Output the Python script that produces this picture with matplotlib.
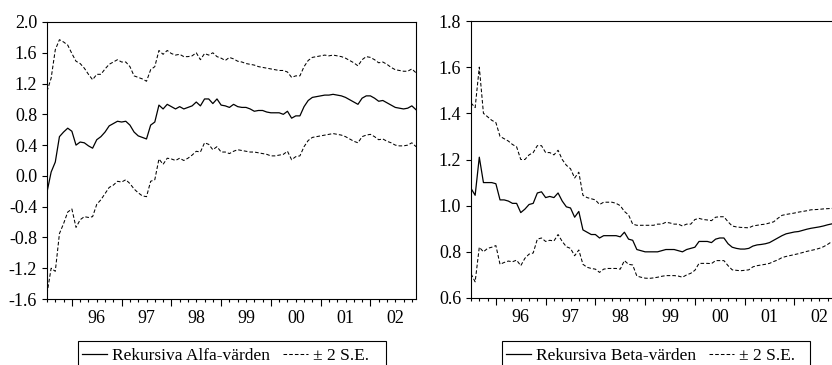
import numpy as np
import matplotlib.pyplot as plt
from matplotlib.patches import Rectangle

plt.rcParams['font.family'] = ['Liberation Serif', 'DejaVu Serif']
plt.rcParams['lines.scale_dashes'] = False

# --- Data: monthly recursive estimates, 1995M07 - 2002M12 ---
start_year = 1995.5
n_obs = 90

alfa = [-0.21, 0.05, 0.18, 0.51, 0.57, 0.62, 0.58, 0.40, 0.44, 0.43,
        0.39, 0.36, 0.47, 0.51, 0.57, 0.65, 0.68, 0.71, 0.70, 0.71,
        0.66, 0.57, 0.52, 0.50, 0.48, 0.66, 0.70, 0.92, 0.87, 0.93,
        0.90, 0.87, 0.90, 0.87, 0.89, 0.91, 0.96, 0.91, 1.00, 1.00,
        0.94, 1.00, 0.92, 0.91, 0.89, 0.93, 0.90, 0.89, 0.89, 0.87,
        0.84, 0.85, 0.85, 0.83, 0.82, 0.82, 0.82, 0.80, 0.84, 0.75,
        0.78, 0.78, 0.90, 0.98, 1.02, 1.03, 1.04, 1.05, 1.05, 1.06,
        1.05, 1.04, 1.02, 0.99, 0.96, 0.93, 1.01, 1.04, 1.04, 1.01,
        0.97, 0.98, 0.95, 0.92, 0.89, 0.88, 0.87, 0.88, 0.91, 0.86]
alfa_upper = [1.10, 1.27, 1.64, 1.77, 1.74, 1.70, 1.59, 1.49, 1.46, 1.40,
              1.32, 1.25, 1.32, 1.32, 1.39, 1.45, 1.48, 1.51, 1.48, 1.48,
              1.42, 1.30, 1.28, 1.26, 1.23, 1.38, 1.42, 1.63, 1.58, 1.63,
              1.59, 1.57, 1.58, 1.55, 1.55, 1.56, 1.60, 1.51, 1.59, 1.57,
              1.60, 1.55, 1.53, 1.50, 1.54, 1.52, 1.49, 1.48, 1.46, 1.45,
              1.44, 1.42, 1.41, 1.40, 1.39, 1.38, 1.37, 1.37, 1.35, 1.28,
              1.30, 1.30, 1.42, 1.50, 1.54, 1.55, 1.56, 1.57, 1.56, 1.57,
              1.56, 1.55, 1.53, 1.50, 1.47, 1.43, 1.51, 1.55, 1.54, 1.51,
              1.47, 1.48, 1.45, 1.41, 1.38, 1.37, 1.36, 1.36, 1.39, 1.34]
alfa_lower = [-1.53, -1.20, -1.24, -0.75, -0.62, -0.47, -0.43, -0.67, -0.57, -0.53,
              -0.54, -0.53, -0.37, -0.31, -0.23, -0.15, -0.12, -0.07, -0.08, -0.05,
              -0.10, -0.17, -0.22, -0.26, -0.27, -0.07, -0.05, 0.22, 0.15, 0.23,
              0.22, 0.20, 0.23, 0.20, 0.23, 0.27, 0.32, 0.31, 0.43, 0.41,
              0.34, 0.38, 0.31, 0.31, 0.29, 0.32, 0.34, 0.33, 0.32, 0.31,
              0.31, 0.30, 0.29, 0.28, 0.26, 0.26, 0.27, 0.28, 0.32, 0.21,
              0.25, 0.26, 0.38, 0.46, 0.50, 0.51, 0.52, 0.53, 0.54, 0.55,
              0.54, 0.53, 0.51, 0.48, 0.45, 0.43, 0.51, 0.53, 0.54, 0.51,
              0.47, 0.48, 0.45, 0.43, 0.40, 0.39, 0.39, 0.40, 0.43, 0.38]

beta = [1.075, 1.045, 1.21, 1.10, 1.10, 1.10, 1.095, 1.025, 1.025, 1.02,
        1.01, 1.01, 0.97, 0.985, 1.005, 1.01, 1.055, 1.06, 1.035, 1.04,
        1.035, 1.055, 1.02, 0.995, 0.99, 0.95, 0.975, 0.895, 0.885, 0.875,
        0.875, 0.86, 0.87, 0.87, 0.87, 0.87, 0.865, 0.885, 0.855, 0.85,
        0.81, 0.805, 0.80, 0.80, 0.80, 0.80, 0.805, 0.81, 0.81, 0.81,
        0.805, 0.80, 0.81, 0.815, 0.82, 0.845, 0.845, 0.845, 0.84, 0.855,
        0.86, 0.86, 0.835, 0.82, 0.815, 0.812, 0.812, 0.815, 0.825, 0.83,
        0.832, 0.835, 0.84, 0.85, 0.86, 0.87, 0.878, 0.882, 0.886, 0.888,
        0.893, 0.898, 0.902, 0.905, 0.908, 0.912, 0.917, 0.921, 0.925, 0.93]
beta_upper = [1.445, 1.425, 1.60, 1.40, 1.385, 1.37, 1.36, 1.30, 1.29, 1.28,
              1.265, 1.255, 1.20, 1.20, 1.22, 1.23, 1.26, 1.26, 1.23, 1.23,
              1.22, 1.24, 1.20, 1.175, 1.16, 1.12, 1.145, 1.045, 1.035, 1.03,
              1.025, 1.005, 1.015, 1.015, 1.015, 1.01, 1.0, 0.975, 0.96, 0.92,
              0.915, 0.915, 0.915, 0.915, 0.915, 0.92, 0.92, 0.928, 0.925, 0.92,
              0.92, 0.912, 0.92, 0.92, 0.94, 0.945, 0.94, 0.938, 0.935, 0.95,
              0.952, 0.952, 0.93, 0.912, 0.908, 0.906, 0.905, 0.904, 0.912, 0.915,
              0.918, 0.92, 0.925, 0.93, 0.945, 0.958, 0.962, 0.965, 0.968, 0.972,
              0.975, 0.978, 0.982, 0.983, 0.984, 0.986, 0.987, 0.988, 0.99, 0.992]
beta_lower = [0.705, 0.67, 0.82, 0.80, 0.815, 0.82, 0.827, 0.746, 0.754, 0.76,
              0.757, 0.764, 0.74, 0.772, 0.79, 0.795, 0.855, 0.86, 0.845, 0.85,
              0.847, 0.875, 0.845, 0.822, 0.815, 0.783, 0.808, 0.746, 0.733, 0.728,
              0.725, 0.711, 0.725, 0.728, 0.728, 0.728, 0.725, 0.762, 0.746, 0.743,
              0.695, 0.69, 0.686, 0.685, 0.687, 0.69, 0.694, 0.697, 0.697, 0.697,
              0.695, 0.69, 0.70, 0.707, 0.72, 0.75, 0.75, 0.75, 0.749, 0.762,
              0.762, 0.762, 0.74, 0.722, 0.72, 0.718, 0.72, 0.722, 0.735, 0.74,
              0.743, 0.746, 0.75, 0.758, 0.765, 0.775, 0.78, 0.784, 0.788, 0.792,
              0.797, 0.802, 0.806, 0.81, 0.815, 0.822, 0.832, 0.844, 0.85, 0.855]

year_ticks = [1996, 1997, 1998, 1999, 2000, 2001, 2002]
year_labels = ['96', '97', '98', '99', '00', '01', '02']
alfa_yticks = [-1.6, -1.2, -0.8, -0.4, 0.0, 0.4, 0.8, 1.2, 1.6, 2.0]
beta_yticks = [0.6, 0.8, 1.0, 1.2, 1.4, 1.6, 1.8]

legend_alfa = 'Rekursiva Alfa-värden'
legend_beta = 'Rekursiva Beta-värden'
legend_se = '± 2 S.E.'

# --- Figure ---
W, H = 832, 365
fig = plt.figure(figsize=(W / 100, H / 100), dpi=100)
fs = 13
legend_fs = 12.5
dash_style = (0, (2.6, 1.5))

x = start_year + np.arange(n_obs) / 12.0
x_end = x[-1]

# two-month minor ticks, year labels in the middle of each year
minor_pos = []
minor_lab = []
k = 0
while start_year + k / 6.0 <= x_end + 1e-9:
    if k % 6 != 3:
        minor_pos.append(start_year + k / 6.0)
        if k % 6 == 0 and k > 0:
            minor_lab.append(year_labels[k // 6 - 1])
        else:
            minor_lab.append('')
    k += 1


def panel(left_px, bottom_px, est, up, lo, yticks, label):
    ax = fig.add_axes([left_px / W, (H - bottom_px) / H, 369 / W, 277 / H])
    line, = ax.plot(x, est, color='black', lw=0.9, label=label)
    dash, = ax.plot(x, up, color='black', lw=0.75, linestyle=dash_style,
                    label=legend_se)
    ax.plot(x, lo, color='black', lw=0.75, linestyle=dash_style)

    ax.set_xlim(start_year, x_end)
    ax.set_ylim(yticks[0], yticks[-1])
    ax.set_yticks(yticks, labels=[f'{v:.1f}' for v in yticks])
    ax.set_xticks(year_ticks, labels=[''] * len(year_ticks))
    ax.set_xticks(minor_pos, labels=minor_lab, minor=True)

    ax.tick_params(axis='y', direction='out', length=3.6, width=0.8,
                   pad=3.5, labelsize=fs)
    ax.tick_params(axis='x', which='major', direction='out', length=5, width=0.8)
    ax.tick_params(axis='x', which='minor', direction='out', length=2.5, width=0.8,
                   pad=5.5, labelsize=fs)
    for s in ax.spines.values():
        s.set_linewidth(0.8)

    # legend row centred below the axis, its box runs off the bottom of the figure
    box_l = left_px + 31
    box_w = 308
    ax.legend(handles=[line, dash], loc='center left', ncol=2,
              bbox_to_anchor=((box_l + 4) / W, 1 - 356 / H),
              bbox_transform=fig.transFigure, frameon=False, fontsize=legend_fs,
              handlelength=1.45, handletextpad=0.3, columnspacing=0.7,
              borderpad=0, borderaxespad=0)
    box = Rectangle((box_l / W, -0.1), box_w / W, 0.1 + (H - 341) / H,
                    transform=fig.transFigure, fill=False, ec='black',
                    lw=0.8, clip_on=False)
    fig.add_artist(box)
    return ax


panel(47, 299, alfa, alfa_upper, alfa_lower, alfa_yticks, legend_alfa)
panel(471, 298, beta, beta_upper, beta_lower, beta_yticks, legend_beta)

fig.savefig('out.png', dpi=100)
